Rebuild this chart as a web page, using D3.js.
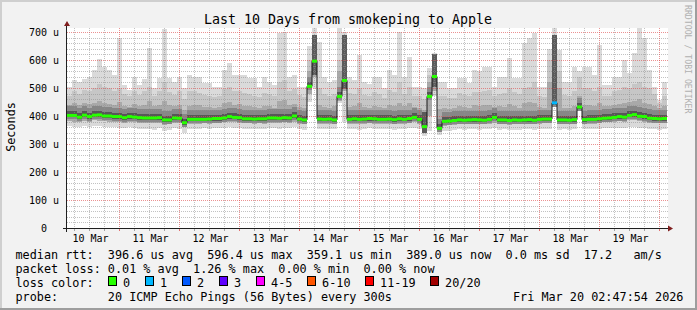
<!DOCTYPE html>
<html>
<head>
<meta charset="utf-8">
<script src="https://cdn.jsdelivr.net/npm/d3@7"></script>
<style>
html, body { margin: 0; padding: 0; background: #f2f2f2; }
svg { display: block; }
text { font-family: "DejaVu Sans Mono", monospace; white-space: pre; }
</style>
</head>
<body>
<svg id="chart" width="697" height="310"></svg>
<script>
// smokeping data, one column every 2 hours, values in microseconds
var med = [402,402,396,403,398,403,404,400,400,398, 398,394,398,396,394,393,393,393,394,386,
           386,393,392,376,388,388,388,388,389,391, 391,393,398,395,394,390,390,389,390,390,
           393,393,392,394,393,400,389,386,506,596, 389,388,389,386,470,527,388,390,388,389,
           391,390,388,388,389,387,390,388,391,395, 388,362,470,541,356,381,382,384,386,385,
           386,387,386,385,388,395,386,386,384,386, 385,386,387,385,388,389,389,447,386,386,
           385,387,432,387,388,388,390,392,393,395, 398,396,402,405,399,398,392,391,390,391];
// fastest ping
var lo  = [365,362,360,364,361,366,363,362,360,361, 358,356,360,357,355,352,354,350,356,348,
           350,356,352,338,352,355,354,356,353,357, 356,358,360,357,356,354,355,352,355,354,
           356,357,355,358,356,360,352,350,450,500, 352,354,355,352,445,380,352,354,351,355,
           356,354,352,353,354,350,355,352,356,358, 352,330,345,470,332,345,348,350,352,350,
           352,353,350,352,354,356,350,352,349,351, 350,352,353,350,352,354,355,440,350,352,
           350,352,420,352,353,354,355,356,357,358, 358,357,360,362,358,356,354,352,350,352];
// lower edge of the denser smoke
var q1  = [382,380,378,383,379,384,382,381,380,379, 378,376,379,377,376,375,376,374,376,368,
           370,376,374,360,372,373,373,374,373,376, 376,377,379,377,376,374,374,372,374,373,
           376,376,375,377,376,380,372,370,480,540, 372,372,373,370,455,490,372,373,371,373,
           374,373,372,372,373,370,373,371,374,377, 372,345,400,490,345,366,367,369,371,370,
           371,372,370,371,373,376,370,371,369,371, 370,371,372,370,373,374,374,442,370,371,
           370,372,420,372,373,373,375,377,378,379, 381,380,384,386,382,380,376,375,374,375];
// upper edge of the dark smoke
var p65 = [440,445,438,446,442,448,452,446,442,440, 450,436,432,442,436,440,452,436,440,452,
           438,434,438,420,436,440,438,432,432,430, 432,445,450,440,442,436,434,432,428,436,
           434,430,452,456,438,442,432,430,560,650, 440,432,430,434,560,620,432,436,446,432,
           430,436,432,428,440,436,448,434,446,432, 428,420,520,590,425,428,426,430,436,432,
           430,438,436,440,440,432,434,432,444,436, 430,446,450,448,432,430,520,560,500,430,
           428,436,470,438,440,436,446,434,434,440, 442,448,450,455,462,448,444,436,430,434];
// upper edge of the medium smoke
var p80 = [470,490,480,492,488,500,515,505,500,490, 500,478,470,490,476,488,505,470,490,520,
           486,476,488,460,490,488,482,476,470,468, 470,495,505,488,490,482,480,470,468,482,
           478,470,520,530,488,495,476,468,600,690, 500,480,470,480,600,680,482,480,500,476,
           472,484,480,466,492,484,520,480,505,470, 470,460,545,610,470,470,464,466,482,476,
           470,486,484,490,492,470,480,482,500,486, 480,500,505,520,470,468,600,640,560,475,
           470,490,540,500,500,488,505,470,472,488, 492,505,500,515,520,505,500,480,448,470];
// slowest ping
var hi  = [505,530,520,532,540,565,603,575,565,545, 678,510,493,540,510,532,642,500,537,712,
           537,520,540,500,545,540,540,517,517,505, 505,565,590,546,546,546,535,535,505,540,
           520,510,696,700,540,545,505,505,650,720, 665,540,520,530,720,700,540,530,618,520,
           515,540,540,500,565,545,700,540,611,505, 505,500,570,625,520,520,500,500,535,535,
           517,565,560,575,575,505,540,540,607,535, 535,660,680,696,505,505,640,715,636,520,
           520,575,560,575,575,545,653,510,510,540, 540,600,555,625,715,680,565,505,457,520];
// lost pings (of 20) per column
var loss = [0,0,0,0,0,0,0,0,0,0, 0,0,0,0,0,0,0,0,0,0, 0,0,0,0,0,0,0,0,0,0, 0,0,0,0,0,0,0,0,0,0,
            0,0,0,0,0,0,0,0,0,0, 0,0,0,0,0,0,0,0,0,0, 0,0,0,0,0,0,0,0,0,0, 0,0,0,0,0,0,0,0,0,0,
            0,0,0,0,0,0,0,0,0,0, 0,0,0,0,0,0,0,1,0,0, 0,0,0,0,0,0,0,0,0,0, 0,0,0,0,0,0,0,0,0,0];
// columns where the pings bunched up high (dense dark smoke)
var burstCol = [49, 55, 71, 73, 97];
var burstLo  = [545, 495, 340, 505, 450];
var burstHi  = [690, 690, 415, 620, 690];

var yTicks     = [0, 100, 200, 300, 400, 500, 600, 700];
var dayLabels  = ["10 Mar","11 Mar","12 Mar","13 Mar","14 Mar","15 Mar","16 Mar","17 Mar","18 Mar","19 Mar"];
var lossNames  = ["0","1","2","3","4-5","6-10","11-19","20/20"];
var lossColors = ["#26ff00","#00b8ff","#0059ff","#5e00ff","#ff00ff","#ff5500","#ff0000","#a10000"];
var legendLines = [
  "median rtt:  396.6 us avg  596.4 us max  359.1 us min  389.0 us now  0.0 ms sd  17.2   am/s",
  "packet loss: 0.01 % avg  1.26 % max  0.00 % min  0.00 % now",
  "loss color:",
  "probe:       20 ICMP Echo Pings (56 Bytes) every 300s"
];
var stamp = "Fri Mar 20 02:47:54 2026";

var N    = med.length;
var t0   = Date.UTC(2026, 2, 10, 2, 47, 54);
var t1   = Date.UTC(2026, 2, 20, 2, 47, 54);
var step = 2 * 3600 * 1000;

var x = d3.scaleUtc().domain([t0, t1]).range([67, 667]);
var y = d3.scaleLinear().domain([0, 714.3]).range([228, 28]);

function cx0(i) { return x(t0 + i * step); }
function cx1(i) { return x(t0 + (i + 1) * step); }
function gx(d) { return Math.round(x(d)) - 0.5; }   // crisp 1px verticals
function gy(v) { return Math.round(y(v)) + 0.5; }   // crisp 1px horizontals
function lossIdx(n) {
  if (n <= 3) return n;
  if (n <= 5) return 4;
  if (n <= 10) return 5;
  if (n <= 19) return 6;
  return 7;
}

var svg = d3.select("#chart");

// background + 3d shade
svg.append("rect").attr("width", 697).attr("height", 310).attr("fill", "#f2f2f2");
svg.append("rect").attr("x", 0).attr("y", 0).attr("width", 697).attr("height", 2).attr("fill", "#cfcfcf");
svg.append("rect").attr("x", 0).attr("y", 0).attr("width", 2).attr("height", 310).attr("fill", "#cfcfcf");
svg.append("rect").attr("x", 0).attr("y", 308).attr("width", 697).attr("height", 2).attr("fill", "#9e9e9e");
svg.append("rect").attr("x", 695).attr("y", 0).attr("width", 2).attr("height", 310).attr("fill", "#9e9e9e");

// canvas
svg.append("rect").attr("x", 67).attr("y", 28).attr("width", 601).attr("height", 200).attr("fill", "#fff");

svg.append("clipPath").attr("id", "clip")
  .append("rect").attr("x", 67).attr("y", 28).attr("width", 601).attr("height", 200);

var data = svg.append("g").attr("clip-path", "url(#clip)").attr("shape-rendering", "crispEdges");
var cols = d3.range(N);

// smoke layers, outer to inner
var layers = [
  {bot: lo, top: hi,  fill: "#dadada"},
  {bot: q1, top: p80, fill: "#c6c6c6"},
  {bot: q1, top: p65, fill: "#a9a9a9"}
];
layers.forEach(function (L) {
  data.append("g").selectAll("rect").data(cols).join("rect")
    .attr("x", function (i) { return cx0(i); })
    .attr("width", function (i) { return cx1(i) - cx0(i); })
    .attr("y", function (i) { return y(L.top[i]); })
    .attr("height", function (i) { return y(L.bot[i]) - y(L.top[i]); })
    .attr("fill", L.fill);
});

// densest smoke hugging the median
[[9, 4, "#878787"], [4, 2, "#575757"]].forEach(function (h) {
  data.append("g").selectAll("rect").data(cols).join("rect")
    .attr("x", function (i) { return cx0(i); })
    .attr("width", function (i) { return cx1(i) - cx0(i); })
    .attr("y", function (i) { return y(med[i]) - h[0]; })
    .attr("height", h[0] + h[1])
    .attr("fill", h[2]);
});

// bursts of slow pings
data.append("g").selectAll("rect").data(d3.range(burstCol.length)).join("rect")
  .attr("x", function (k) { return cx0(burstCol[k]); })
  .attr("width", function (k) { return cx1(burstCol[k]) - cx0(burstCol[k]); })
  .attr("y", function (k) { return y(burstHi[k]); })
  .attr("height", function (k) { return y(burstLo[k]) - y(burstHi[k]); })
  .attr("fill", "#5a5a5a");

// grid, drawn over the smoke
var grid = svg.append("g").attr("stroke-dasharray", "1,1");
var minorY = d3.range(20, 714, 20).filter(function (v) { return v % 100 !== 0; });
var minorX = d3.utcHour.every(6).range(t0, t1).filter(function (d) { return d.getUTCHours() !== 0; });
var majorX = d3.utcDay.range(t0, t1);

grid.selectAll(".mny").data(minorY).join("line").attr("class", "mny")
  .attr("x1", 67).attr("x2", 668).attr("y1", gy).attr("y2", gy)
  .attr("stroke", "rgba(143,143,143,0.55)");
grid.selectAll(".mnx").data(minorX).join("line").attr("class", "mnx")
  .attr("x1", gx).attr("x2", gx).attr("y1", 28).attr("y2", 228)
  .attr("stroke", "rgba(143,143,143,0.55)");
grid.selectAll(".mjy").data(yTicks.slice(1)).join("line").attr("class", "mjy")
  .attr("x1", 67).attr("x2", 668).attr("y1", gy).attr("y2", gy)
  .attr("stroke", "rgba(222,79,79,0.62)");
grid.selectAll(".mjx").data(majorX).join("line").attr("class", "mjx")
  .attr("x1", gx).attr("x2", gx).attr("y1", 28).attr("y2", 228)
  .attr("stroke", "rgba(222,79,79,0.62)");

// median line: dark steps plus loss-coloured segments
var pts = cols.map(function (i) { return [t0 + i * step, med[i]]; });
pts.push([t1, med[N - 1]]);
var medLine = d3.line()
  .x(function (d) { return x(d[0]); })
  .y(function (d) { return y(d[1]); })
  .curve(d3.curveStepAfter);

var lines = svg.append("g").attr("clip-path", "url(#clip)");
lines.append("path").attr("d", medLine(pts))
  .attr("fill", "none").attr("stroke", "#1a1a1a").attr("stroke-width", 1);
lines.selectAll(".seg").data(cols).join("line").attr("class", "seg")
  .attr("x1", function (i) { return cx0(i); })
  .attr("x2", function (i) { return cx1(i); })
  .attr("y1", function (i) { return y(med[i]); })
  .attr("y2", function (i) { return y(med[i]); })
  .attr("stroke", function (i) { return lossColors[lossIdx(loss[i])]; })
  .attr("stroke-width", 3);

// axis ticks under the x axis
svg.append("g").selectAll("line").data(minorX).join("line")
  .attr("x1", gx).attr("x2", gx).attr("y1", 229).attr("y2", 231)
  .attr("stroke", "rgba(143,143,143,0.8)");
svg.append("g").selectAll("line").data(majorX).join("line")
  .attr("x1", gx).attr("x2", gx).attr("y1", 229).attr("y2", 231)
  .attr("stroke", "rgba(222,79,79,0.8)");

// axes
var yAxis = d3.axisLeft(y).tickValues(yTicks)
  .tickFormat(function (v) { return v ? v + " u" : "0\u00a0\u00a0"; })
  .tickSize(0).tickPadding(8);
var ay = svg.append("g").attr("transform", "translate(67,0)").call(yAxis);
ay.select(".domain").remove();
ay.selectAll("text").attr("font-size", "10px").attr("fill", "#000")
  .attr("font-family", "'DejaVu Sans Mono', monospace");

var noons = d3.utcDay.range(Date.UTC(2026, 2, 10), Date.UTC(2026, 2, 20))
  .map(function (d) { return d3.utcHour.offset(d, 12); });
var xAxis = d3.axisBottom(x).tickValues(noons)
  .tickFormat(function (d, i) { return dayLabels[i]; })
  .tickSize(0).tickPadding(6.4);
var ax = svg.append("g").attr("transform", "translate(0,228)").call(xAxis);
ax.select(".domain").remove();
ax.selectAll("text").attr("font-size", "10px").attr("fill", "#000")
  .attr("font-family", "'DejaVu Sans Mono', monospace");

svg.append("line").attr("x1", 63).attr("x2", 669).attr("y1", 228.5).attr("y2", 228.5)
  .attr("stroke", "#1f1f1f");
svg.append("line").attr("x1", 66.5).attr("x2", 66.5).attr("y1", 232).attr("y2", 25)
  .attr("stroke", "#1f1f1f");
svg.append("polygon").attr("points", "64,26 70,26 67,21").attr("fill", "#801f1f");
svg.append("polygon").attr("points", "668,225.5 668,231.5 673,228.5").attr("fill", "#801f1f");

// title, axis label, watermark
svg.append("text").attr("x", 348).attr("y", 24).attr("text-anchor", "middle")
  .attr("font-size", "13.3px").text("Last 10 Days from smokeping to Apple");
svg.append("text").attr("transform", "translate(15,127) rotate(-90)")
  .attr("text-anchor", "middle").attr("font-size", "11.8px").text("Seconds");
svg.append("text").attr("transform", "translate(684.5,5) rotate(90)")
  .attr("font-size", "8.2px").attr("fill", "#b0b0b0").text("RRDTOOL / TOBI OETIKER");

// legend
var leg = svg.append("g").attr("font-size", "11.8px").attr("fill", "#000");
legendLines.forEach(function (s, k) {
  leg.append("text").attr("x", 15.5).attr("y", 258.5 + k * 14).text(s);
});
var pos = 108.5;
lossNames.forEach(function (name, k) {
  leg.append("rect").attr("x", pos).attr("y", 276.5).attr("width", 8).attr("height", 9)
    .attr("fill", lossColors[k]).attr("stroke", "#000");
  leg.append("text").attr("x", pos + 14.6).attr("y", 286.5).text(name);
  pos += 30 + name.length * 7;
});
leg.append("text").attr("x", 513).attr("y", 300.5).text(stamp);
</script>
</body>
</html>
